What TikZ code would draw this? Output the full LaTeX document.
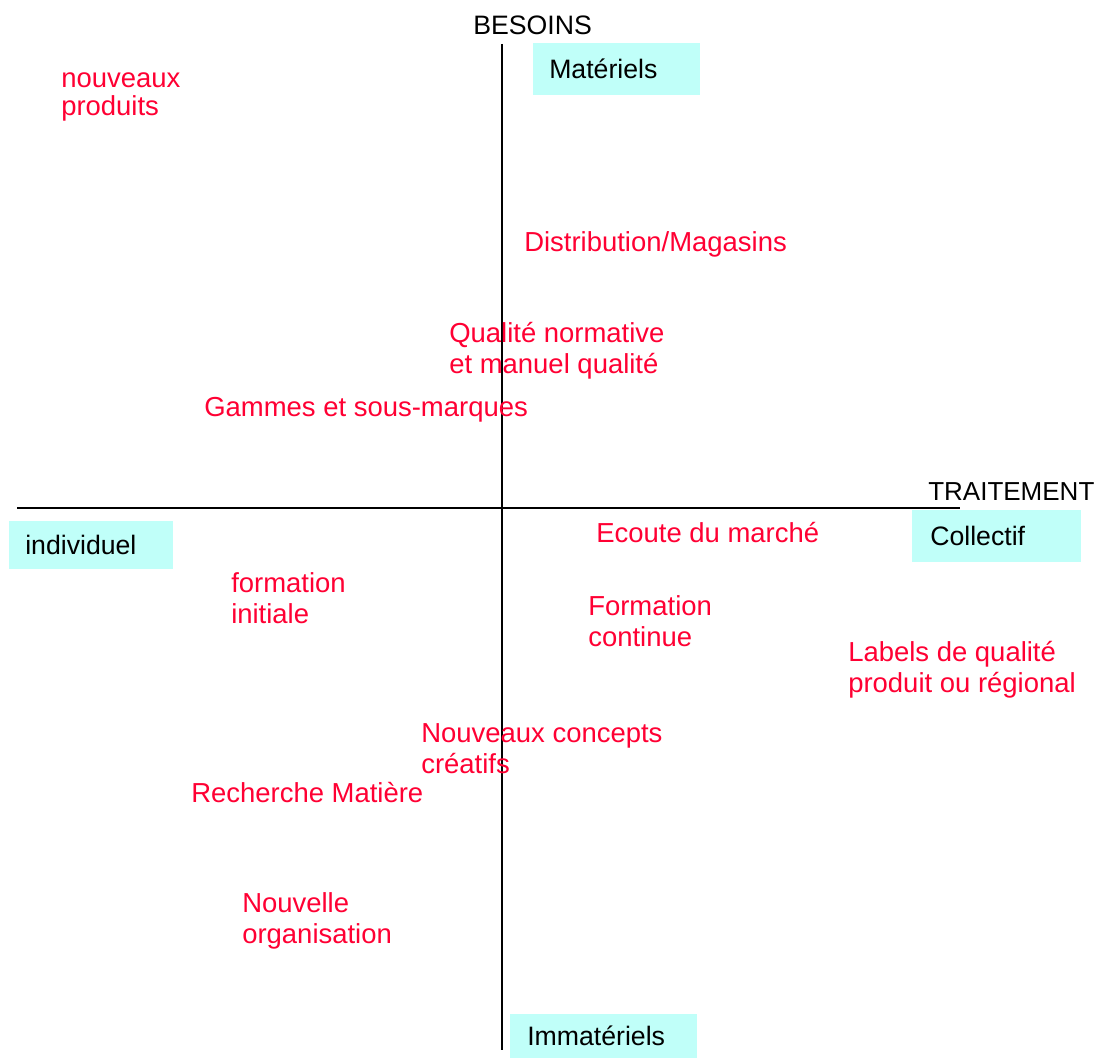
\documentclass[tikz,border=0pt]{standalone}
\usepackage{fontspec}
\setmainfont{Liberation Sans}
\definecolor{itemred}{RGB}{255,0,51}
\definecolor{boxcyan}{RGB}{192,255,249}
\begin{document}
\begin{tikzpicture}[x=0.75pt,y=-0.75pt,
  every node/.style={font=\fontsize{20}{23.5}\selectfont},
  axis/.style={line width=1.6pt,black},
  item/.style={anchor=west,inner sep=0pt,align=left,text=itemred,font=\fontsize{20.6}{23.5}\selectfont},
  title/.style={anchor=west,inner sep=0pt,text=black},
  pole/.style={anchor=north west,fill=boxcyan,inner ysep=0pt,align=left,text=black}]
\useasboundingbox (0,0) rectangle (1104,1059);

% axes
\coordinate (top) at (502,44);
\coordinate (bottom) at (502,1050);
\coordinate (left) at (17,508);
\coordinate (right) at (960,508);
\draw[axis] (top) -- (bottom);
\draw[axis] (left) -- (right);

% axis titles
\node[title] (besoins) at (473,25) {BESOINS};
\node[title,font=\fontsize{19.5}{23.5}\selectfont] (traitement) at (928,492) {TRAITEMENT};

% poles
\node[pole,minimum width=125.25pt,minimum height=39pt,inner xsep=12pt,text width=101.25pt] (materiels) at (533,43) {Matériels};
\node[pole,minimum width=123pt,minimum height=36pt,inner xsep=12pt,text width=99pt] (individuel) at (9,521) {individuel};
\node[pole,minimum width=126.75pt,minimum height=39pt,inner xsep=13.5pt,text width=99.75pt] (collectif) at (912,510) {Collectif};
\node[pole,minimum width=140.25pt,minimum height=33pt,inner xsep=12.75pt,text width=114.75pt] (immateriels) at (510,1014) {Immatériels};

% items
\node[item,font=\fontsize{20.6}{21.5}\selectfont] (nouveaux) at (61,97) {nouveaux\\produits};
\node[item] (distribution) at (524,244) {Distribution/Magasins};
\node[item] (qualite) at (449,351) {Qualité normative\\et manuel qualité};
\node[item] (gammes) at (204,410) {Gammes et sous-marques};
\node[item] (ecoute) at (596,533) {Ecoute du marché};
\node[item] (forminit) at (231,598) {formation\\initiale};
\node[item] (formcont) at (588,621) {Formation\\continue};
\node[item] (labels) at (848,670) {Labels de qualité\\produit ou régional};
\node[item] (concepts) at (421,749) {Nouveaux concepts\\créatifs};
\node[item] (recherche) at (191,793) {Recherche Matière};
\node[item] (organisation) at (242,921) {Nouvelle\\organisation};
\end{tikzpicture}
\end{document}
